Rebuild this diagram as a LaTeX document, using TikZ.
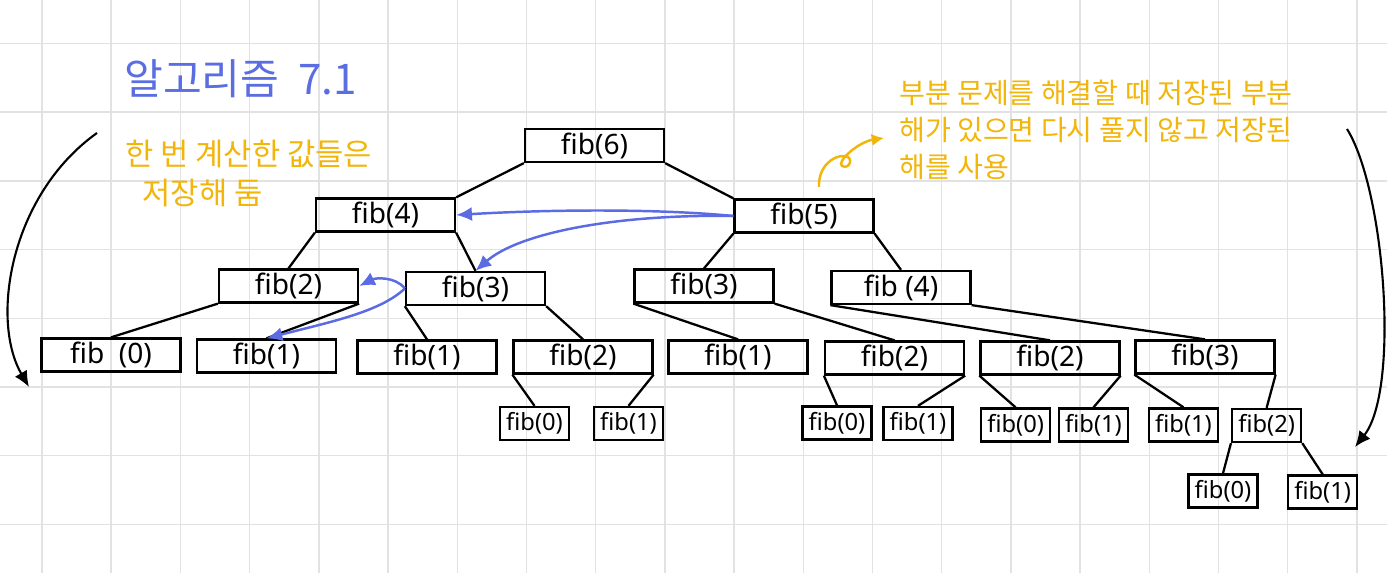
\documentclass[tikz,border=0pt]{standalone}
\usepackage{fontspec}
\usepackage{tikz}
\usepackage{xcolor}
\usetikzlibrary{arrows.meta}
\setmainfont{Noto Sans}
\newfontfamily\hangul{Noto Sans CJK KR}
\definecolor{titleblue}{HTML}{5B6EE1}
\definecolor{arrowblue}{HTML}{5A6BE3}
\definecolor{noteorange}{HTML}{F2B50A}
\definecolor{gridgray}{HTML}{E2E2E2}
\tikzstyle{fibbox} = [
    draw,
    line width=1.3pt,
    rectangle,
    minimum width=2.78cm,
    minimum height=0.66cm,
    inner sep=0pt,
    font=\fontsize{16}{18}\selectfont
    ]
\tikzstyle{smallbox} = [
    fibbox,
    minimum width=1.38cm,
    font=\fontsize{13.5}{15}\selectfont
    ]
\tikzstyle{edge} = [line width=1.3pt]
\tikzstyle{gridline} = [draw=gridgray, line width=0.8pt]
\tikzstyle{memoarrow} = [draw=arrowblue, line width=1.4pt, -{Latex[length=9pt,width=8pt]}]
\tikzstyle{bigcurve} = [line width=1.2pt, -{Latex[length=9pt,width=8pt]}]
\tikzstyle{notepen} = [draw=noteorange, line width=1.4pt, -{Latex[length=7pt,width=7pt]}]
\tikzstyle{titletext} = [text=titleblue, font=\hangul\fontsize{24}{28}\selectfont]
\tikzstyle{notetext} = [text=noteorange, align=left, font=\hangul\fontsize{17.5}{22}\selectfont]
\tikzstyle{sidenote} = [notetext, font=\hangul\fontsize{16}{21}\selectfont]

\begin{document}
\begin{tikzpicture}[x=0.02cm,y=-0.02cm]
\useasboundingbox (0,0) rectangle (1387,573);
\fill[white] (0,0) rectangle (1387,573);
% notebook grid
\foreach \k in {0,...,19}
    \draw[gridline] ({42+69.2*\k},0) -- ({42+69.2*\k},573);
\foreach \k in {0,...,7}
    \draw[gridline] (0,{43.5+68.7*\k}) -- (1387,{43.5+68.7*\k});

\node[titletext, anchor=west] (title) at (118,79) {알고리즘 \ 7.1};
\node[notetext, anchor=north west] (memo) at (119,134) {한 번 계산한 값들은\\\hspace*{0.35cm}저장해 둠};
\node[sidenote, anchor=north west] (reusenote) at (893,74) {부분 문제를 해결할 때 저장된 부분\\해가 있으면 다시 풀지 않고 저장된\\해를 사용};

% call tree
\node[fibbox] (f6) at (594.5,145.5) {fib(6)};
\node[fibbox] (f4) at (385.5,215) {fib(4)};
\node[fibbox] (f5) at (804,216) {fib(5)};
\node[fibbox] (f2) at (288.5,286) {fib(2)};
\node[fibbox] (f3) at (475.5,288.5) {fib(3)};
\node[fibbox] (f3r) at (704,286) {fib(3)};
\node[fibbox] (f4r) at (901,287.5) {fib (4)};
\node[fibbox] (f0) at (111,355) {fib~~(0)};
\node[fibbox] (f1) at (266.5,356) {fib(1)};
\node[fibbox] (f1b) at (427,357) {fib(1)};
\node[fibbox] (f2b) at (583,357) {fib(2)};
\node[fibbox] (f1c) at (738,357) {fib(1)};
\node[fibbox] (f2c) at (894.5,358) {fib(2)};
\node[fibbox] (f2d) at (1050,358) {fib(2)};
\node[fibbox] (f3c) at (1205,357) {fib(3)};
\node[smallbox] (f0b) at (534.5,423.5) {fib(0)};
\node[smallbox] (f1d) at (628.5,423.5) {fib(1)};
\node[smallbox] (f0c) at (837,423) {fib(0)};
\node[smallbox] (f1e) at (918,423.5) {fib(1)};
\node[smallbox] (f0d) at (1015.6,425) {fib(0)};
\node[smallbox] (f1f) at (1093.5,425) {fib(1)};
\node[smallbox] (f1g) at (1183.5,425) {fib(1)};
\node[smallbox] (f2e) at (1266.6,425.5) {fib(2)};
\node[smallbox] (f0e) at (1223,491) {fib(0)};
\node[smallbox] (f1h) at (1322.7,492) {fib(1)};

\draw[edge] (f6.south west) -- (f4.north east) (f6.south east) -- (f5.north west);
\draw[edge] (f4.south west) -- (f2.north) (f4.south east) -- (f3.north);
\draw[edge] (f5.south west) -- (f3r.north) (f5.south east) -- (f4r.north);
\draw[edge] (f2.south west) -- (f0.north) (f2.south east) -- (f1.north);
\draw[edge] (f3.south west) -- (f1b.north) (f3.south east) -- (f2b.north);
\draw[edge] (f3r.south west) -- (f1c.north) (f3r.south east) -- (f2c.north);
\draw[edge] (f4r.south west) -- (f2d.north) (f4r.south east) -- (f3c.north);
\draw[edge] (f2b.south west) -- (f0b.north) (f2b.south east) -- (f1d.north);
\draw[edge] (f2c.south west) -- (f0c.north) (f2c.south east) -- (f1e.north);
\draw[edge] (f2d.south west) -- (f0d.north) (f2d.south east) -- (f1f.north);
\draw[edge] (f3c.south west) -- (f1g.north) (f3c.south east) -- (f2e.north);
\draw[edge] (f2e.south west) -- (f0e.north) (f2e.south east) -- (f1h.north);

% stored results reused
\draw[memoarrow] (f5.west) .. controls (650,208) and (540,210) .. (f4.east);
\draw[memoarrow] (f5.west) .. controls (620,214) and (520,232) .. (f3.north);
\draw[memoarrow] (f3.west) .. controls (395,276) and (375,278) .. (f2.east);
\draw[memoarrow] (f3.west) .. controls (380,312) and (330,322) .. (f1.north);

\coordinate (la) at (97,133);
\coordinate (lb) at (29,387);
\draw[bigcurve] (la) .. controls (10,195) and (-10,320) .. (lb);
\coordinate (ra) at (1347,129);
\coordinate (rb) at (1355,447);
\draw[bigcurve] (ra) .. controls (1385,190) and (1400,390) .. (rb);
\coordinate (sa) at (819,187);
\coordinate (sb) at (884,138);
\draw[notepen] (sa) .. controls (818,168) and (832,155) .. (845,156) .. controls (854,157) and (850,170) .. (842,166) .. controls (836,162) and (858,142) .. (sb);
\end{tikzpicture}
\end{document}
